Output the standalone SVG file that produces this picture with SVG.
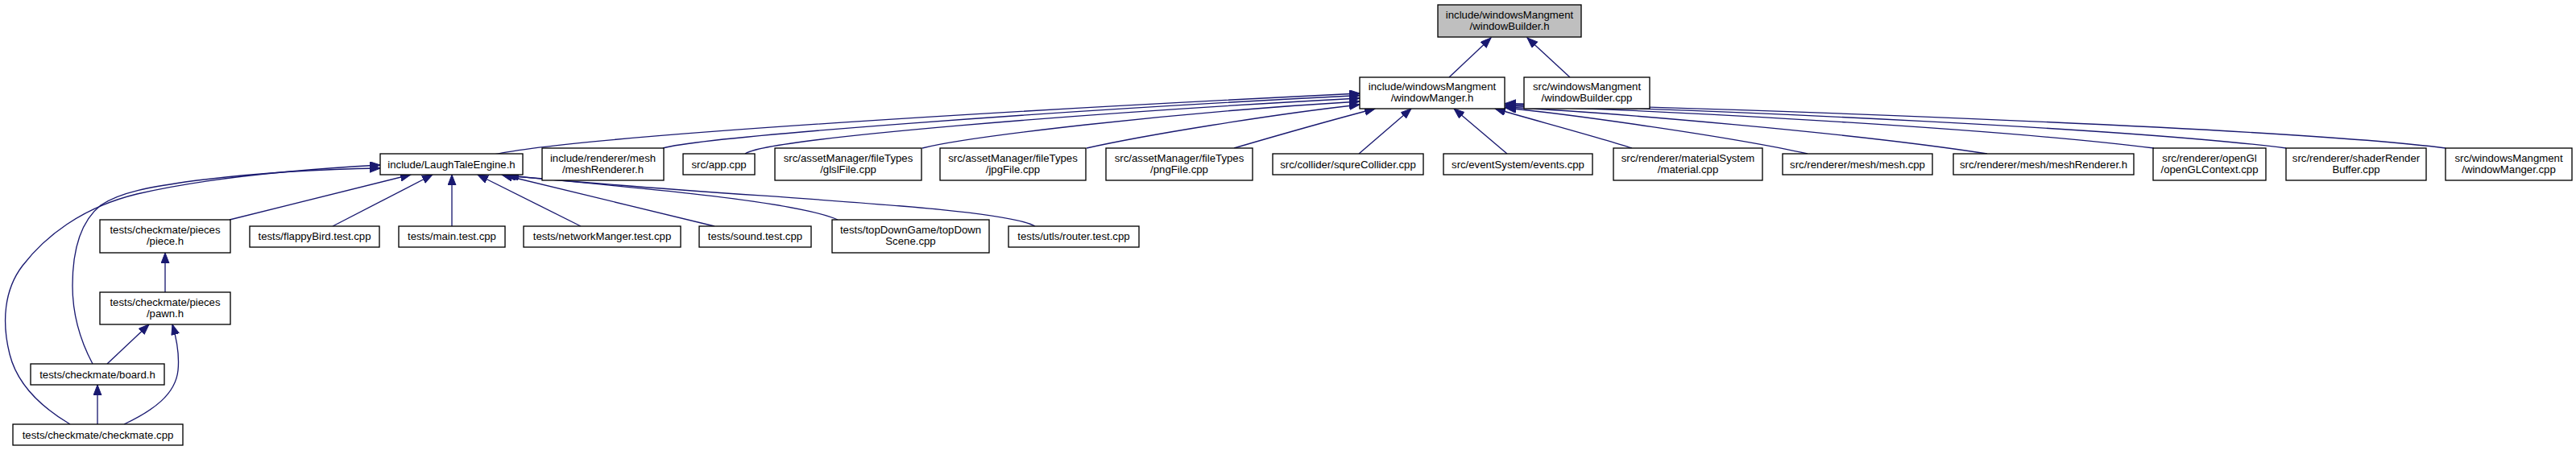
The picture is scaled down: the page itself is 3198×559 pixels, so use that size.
<svg xmlns="http://www.w3.org/2000/svg" width="3198" height="559" viewBox="0 0 3198 559">
<style>
.n rect{fill:#ffffff;stroke:#000000;stroke-width:1.33}
.n.g rect{fill:#bfbfbf}
.n text{font-family:"Liberation Sans",Arial,sans-serif;font-size:13.2px;fill:#000000;text-anchor:middle}
.e path{fill:none;stroke:#191970;stroke-width:1.33;marker-end:url(#ah)}
</style>
<defs>
<marker id="ah" markerUnits="userSpaceOnUse" markerWidth="14" markerHeight="11" refX="13" refY="5" orient="auto">
<path d="M0,0 L13,5 L0,10 Z" fill="#191970" stroke="#191970" stroke-width="1"/>
</marker>
</defs>
<rect width="3198" height="559" fill="#ffffff"/>
<g id="edges" class="e">
<path d="M1799,96 L1851,47"/>
<path d="M1949,96 L1896,47"/>
<path d="M613,192 C720,168 1300,135 1688,116"/>
<path d="M823,184 C870,170 1300,138 1688,118.5"/>
<path d="M925,191 C950,172 1350,140 1688,122"/>
<path d="M1145,184 C1200,170 1450,140 1688,126"/>
<path d="M1349,184 C1420,168 1580,142 1688,130"/>
<path d="M1532,184 C1590,167 1650,150 1707,135"/>
<path d="M1687,191 L1752,135"/>
<path d="M1871,191 L1805,135"/>
<path d="M2026,184 C1990,172 1900,148 1856,135"/>
<path d="M2244,191 C2150,170 1950,142 1869,134"/>
<path d="M2467,191 C2300,165 2000,140 1869,133"/>
<path d="M2674,184 C2500,162 2100,138 1869,131.5"/>
<path d="M2838,184 C2650,160 2150,137 1869,130"/>
<path d="M3036,184 C2850,160 2200,136 1869,128.5"/>
<path d="M285,273 L510,217"/>
<path d="M413,281 L537,217"/>
<path d="M561,281 L561,217"/>
<path d="M721,281 L593,217"/>
<path d="M887,281 L623,217"/>
<path d="M1040,273 C990,250 780,232 627,218"/>
<path d="M1285,281 C1240,255 900,245 631,218"/>
<path d="M87,527 C55,508 22,480 12,440 C2,400 5,360 28,330 C55,295 100,258 170,241 C260,220 380,210 472,205"/>
<path d="M115,452 C98,420 90,390 90,355 C90,310 100,275 125,255 C150,238 190,232 230,226 C320,214 400,210 472,209"/>
<path d="M205,363 L205,314"/>
<path d="M133,452 L185,403"/>
<path d="M154,527 C190,510 218,490 221,460 C223,440 219,420 214,403"/>
<path d="M121,527 L121,478"/>
</g>
<g id="n0" class="n g"><rect x="1785" y="6" width="178" height="40"/><text x="1874" y="22.5">include/windowsMangment</text><text x="1874" y="36.8">/windowBuilder.h</text></g>
<g id="n1" class="n"><rect x="1688" y="96" width="180" height="39"/><text x="1778" y="112">include/windowsMangment</text><text x="1778" y="126.3">/windowManger.h</text></g>
<g id="n2" class="n"><rect x="1892" y="96" width="156" height="39"/><text x="1970" y="112">src/windowsMangment</text><text x="1970" y="126.3">/windowBuilder.cpp</text></g>
<g id="n3" class="n"><rect x="472" y="191" width="177" height="26"/><text x="560.5" y="208.5">include/LaughTaleEngine.h</text></g>
<g id="n4" class="n"><rect x="673" y="184" width="151" height="40"/><text x="748.5" y="200.5">include/renderer/mesh</text><text x="748.5" y="214.8">/meshRenderer.h</text></g>
<g id="n5" class="n"><rect x="848" y="191" width="89" height="26"/><text x="892.5" y="208.5">src/app.cpp</text></g>
<g id="n6" class="n"><rect x="962" y="184" width="182" height="40"/><text x="1053" y="200.5">src/assetManager/fileTypes</text><text x="1053" y="214.8">/glslFile.cpp</text></g>
<g id="n7" class="n"><rect x="1167" y="184" width="181" height="40"/><text x="1257.5" y="200.5">src/assetManager/fileTypes</text><text x="1257.5" y="214.8">/jpgFile.cpp</text></g>
<g id="n8" class="n"><rect x="1373" y="184" width="182" height="40"/><text x="1464" y="200.5">src/assetManager/fileTypes</text><text x="1464" y="214.8">/pngFile.cpp</text></g>
<g id="n9" class="n"><rect x="1580" y="191" width="187" height="26"/><text x="1673.5" y="208.5">src/collider/squreCollider.cpp</text></g>
<g id="n10" class="n"><rect x="1792" y="191" width="185" height="26"/><text x="1884.5" y="208.5">src/eventSystem/events.cpp</text></g>
<g id="n11" class="n"><rect x="2003" y="184" width="185" height="40"/><text x="2095.5" y="200.5">src/renderer/materialSystem</text><text x="2095.5" y="214.8">/material.cpp</text></g>
<g id="n12" class="n"><rect x="2213" y="191" width="186" height="26"/><text x="2306" y="208.5">src/renderer/mesh/mesh.cpp</text></g>
<g id="n13" class="n"><rect x="2425" y="191" width="224" height="26"/><text x="2537" y="208.5">src/renderer/mesh/meshRenderer.h</text></g>
<g id="n14" class="n"><rect x="2673" y="184" width="140" height="40"/><text x="2743" y="200.5">src/renderer/openGl</text><text x="2743" y="214.8">/openGLContext.cpp</text></g>
<g id="n15" class="n"><rect x="2838" y="184" width="174" height="40"/><text x="2925" y="200.5">src/renderer/shaderRender</text><text x="2925" y="214.8">Buffer.cpp</text></g>
<g id="n16" class="n"><rect x="3036" y="184" width="157" height="40"/><text x="3114.5" y="200.5">src/windowsMangment</text><text x="3114.5" y="214.8">/windowManger.cpp</text></g>
<g id="n17" class="n"><rect x="124" y="273" width="162" height="41"/><text x="205" y="290">tests/checkmate/pieces</text><text x="205" y="304.3">/piece.h</text></g>
<g id="n18" class="n"><rect x="310" y="281" width="161" height="26"/><text x="390.5" y="298">tests/flappyBird.test.cpp</text></g>
<g id="n19" class="n"><rect x="495" y="281" width="132" height="26"/><text x="561" y="298">tests/main.test.cpp</text></g>
<g id="n20" class="n"><rect x="650" y="281" width="195" height="26"/><text x="747.5" y="298">tests/networkManger.test.cpp</text></g>
<g id="n21" class="n"><rect x="868" y="281" width="139" height="26"/><text x="937.5" y="298">tests/sound.test.cpp</text></g>
<g id="n22" class="n"><rect x="1033" y="273" width="195" height="41"/><text x="1130.5" y="290">tests/topDownGame/topDown</text><text x="1130.5" y="304.3">Scene.cpp</text></g>
<g id="n23" class="n"><rect x="1252" y="281" width="162" height="26"/><text x="1333" y="298">tests/utls/router.test.cpp</text></g>
<g id="n24" class="n"><rect x="124" y="363" width="162" height="40"/><text x="205" y="379.5">tests/checkmate/pieces</text><text x="205" y="393.8">/pawn.h</text></g>
<g id="n25" class="n"><rect x="38" y="452" width="166" height="26"/><text x="121" y="469.5">tests/checkmate/board.h</text></g>
<g id="n26" class="n"><rect x="16" y="527" width="211" height="26"/><text x="121.5" y="544.5">tests/checkmate/checkmate.cpp</text></g>
</svg>
